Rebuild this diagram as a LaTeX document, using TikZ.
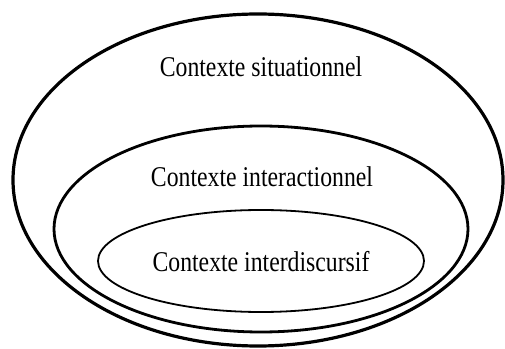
\documentclass[tikz,border=0pt]{standalone}
\usepackage{fontspec}
\setmainfont{Liberation Serif}[FakeStretch=0.83]
\usepackage{tikz}
\usetikzlibrary{positioning}

\begin{document}
\begin{tikzpicture}[x=0.5pt,y=0.5pt,
    ring/.style={draw=black,line width=#1},
    ctxlabel/.style={font=\fontsize{14.3}{16}\selectfont,inner sep=1pt}]
  \useasboundingbox (0,0) rectangle (505,349);
  % the three nested contexts
  \coordinate (situ) at (258,169);
  \coordinate (inter) at (261,120);
  \coordinate (disc) at (261,88);
  \draw[ring=1.6pt] (situ) ellipse [x radius=245,y radius=166];
  \draw[ring=1.4pt] (inter) ellipse [x radius=207,y radius=103];
  \draw[ring=0.9pt] (disc) ellipse [x radius=163,y radius=51];
  \node[ctxlabel] (situlabel) at (261,282) {Contexte situationnel};
  \node[ctxlabel] (interlabel) at (262,172) {Contexte interactionnel};
  \node[ctxlabel] (disclabel) at (261,87) {Contexte interdiscursif};
\end{tikzpicture}
\end{document}
